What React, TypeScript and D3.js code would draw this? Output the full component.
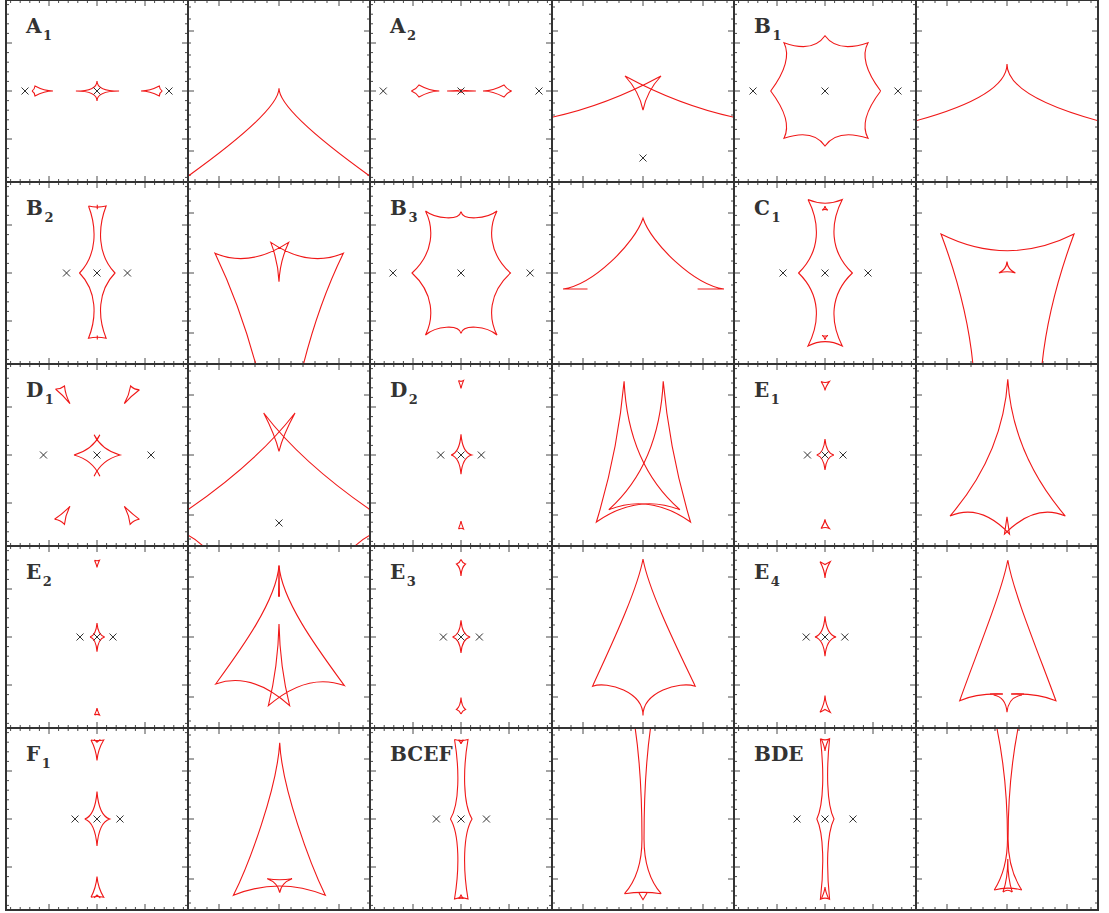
import React from 'react';
import * as d3 from 'd3';

// A curve is a list of segments: the first is the start point [x, y];
// then [x, y] = line, [cx, cy, x, y] = quadratic, [c1x, c1y, c2x, c2y, x, y] = cubic.
type Seg = number[];
type Curve = Seg[];

// ---- A1 ----
const lensesA1 = [[-1.5, 0], [0, 0], [1.5, 0]];
const causticA1: Curve[] = [
  [[-0.44, 0], [0, 0, 0, 0.21], [0, 0, 0.46, 0], [0, 0, 0, -0.21], [0, 0, -0.44, 0]],
  [[-1.354, 0], [-1.3, 0.03, -1.292, 0.104], [-1.1, 0, -0.917, 0], [-1.1, 0, -1.292, -0.104], [-1.3, -0.03, -1.354, 0]],
  [[1.36, 0], [1.305, 0.03, 1.298, 0.104], [1.1, 0, 0.917, 0], [1.1, 0, 1.298, -0.104], [1.305, -0.03, 1.36, 0]],
];
const zoomA1: Curve[] = [[[-1.53, -1.43], [0, -0.333, 0, 0.045], [0, -0.333, 1.53, -1.43]]];

// ---- A2 ----
const lensesA2 = [[-1.62, 0], [0, 0], [1.625, 0]];
const causticA2: Curve[] = [
  [[-0.29, 0], [0, 0, 0, 0.035], [0, 0, 0.31, 0], [0, 0, 0, -0.035], [0, 0, -0.29, 0]],
  [[-1.035, 0], [-0.93, 0.04, -0.875, 0.125], [-0.65, 0, -0.452, 0], [-0.65, 0, -0.875, -0.125], [-0.93, -0.04, -1.035, 0]],
  [[1.056, 0], [0.95, 0.04, 0.896, 0.125], [0.66, 0, 0.458, 0], [0.66, 0, 0.896, -0.125], [0.95, -0.04, 1.056, 0]],
];
const zoomA2: Curve[] = [
  [[-1.53, -0.44], [-0.608, -0.242, 0.3, 0.25], [0.067, 0, 0, -0.317], [-0.067, 0, -0.3, 0.25], [0.608, -0.242, 1.53, -0.44]],
];
const zoomLensesA2 = [[0, -1.117]];

// ---- B1 ----
const lensesB1 = [[-1.5, 0], [0, 0], [1.52, 0]];
const causticB1: Curve[] = [
  [[1.16, 0], [0.69, 0.625, 0.896, 1.006], [0.26, 0.79, 0, 1.152], [-0.25, 0.79, -0.854, 1.006], [-0.667, 0.625, -1.131, 0],
   [-0.667, -0.615, -0.854, -0.985], [-0.25, -0.78, 0, -1.146], [0.26, -0.78, 0.896, -0.985], [0.69, -0.615, 1.16, 0]],
];
const zoomB1: Curve[] = [[[-1.53, -0.5], [0, -0.083, 0, 0.45], [0, -0.083, 1.53, -0.5]]];

// ---- B2 ----
const lensesB2 = [[-0.635, 0], [0, 0], [0.635, 0]];
const causticB2: Curve[] = [
  [[-0.177, 1.396], [0, 0.94, 0, 0.375, -0.363, 0], [0, -0.375, 0, -0.92, -0.177, -1.36], [0.006, -1.32, 0.19, -1.36],
   [0.012, -0.92, 0.012, -0.375, 0.375, 0], [0.012, 0.375, 0.012, 0.94, 0.19, 1.396], [0.006, 1.35, -0.177, 1.396]],
  [[0.006, 1.42], [0.006, 1.33]],
  [[0.006, -1.385], [0.006, -1.3]],
];
const zoomB2: Curve[] = [
  [[-0.384, -1.53], [-0.667, -0.5, -1.067, 0.33], [-0.5, 0.083, 0.16, 0.51], [0.017, 0.2, 0, -0.145],
   [-0.017, 0.2, -0.137, 0.51], [0.5, 0.083, 1.073, 0.33], [0.667, -0.5, 0.405, -1.53]],
];

// ---- B3 ----
const lensesB3 = [[-1.417, 0], [0, 0], [1.44, 0]];
const causticB3: Curve[] = [
  [[-0.74, 1.292], [-0.52, 1.125, -0.042, 1.083, 0, 1.28], [0.042, 1.083, 0.53, 1.125, 0.75, 1.292],
   [0.57, 0.9375, 0.57, 0.417, 1.03, 0], [0.57, -0.417, 0.57, -0.9375, 0.75, -1.292],
   [0.53, -1.1, 0.042, -1.06, 0, -1.26], [-0.042, -1.06, -0.52, -1.1, -0.74, -1.292],
   [-0.5625, -0.9375, -0.5625, -0.417, -1.02, 0], [-0.5625, 0.417, -0.5625, 0.9375, -0.74, 1.292]],
];
const zoomB3: Curve[] = [
  [[-0.925, -0.267], [-1.333, -0.267], [-0.833, -0.2, -0.133, 0.5, 0, 0.912], [0.133, 0.5, 0.85, -0.2, 1.35, -0.267], [0.91, -0.267]],
];

// ---- C1 ----
const lensesC1 = [[-0.875, 0], [0, 0], [0.896, 0]];
const causticC1: Curve[] = [
  [[-0.354, 1.53], [-0.104, 1.04, -0.083, 0.458, -0.55, 0], [-0.083, -0.458, -0.104, -1.03, -0.354, -1.52],
   [0.003, -1.34, 0.36, -1.52], [0.11, -1.03, 0.09, -0.458, 0.57, 0], [0.09, 0.458, 0.11, 1.04, 0.36, 1.53],
   [0.003, 1.374, -0.354, 1.53]],
  [[0, 1.396], [-0.005, 1.34, -0.06, 1.31], [0, 1.335, 0.06, 1.31], [0.005, 1.34, 0, 1.396]],
  [[0, -1.39], [-0.005, -1.335, -0.06, -1.3], [0, -1.325, 0.06, -1.3], [0.005, -1.335, 0, -1.39]],
];
const zoomC1: Curve[] = [
  [[-0.567, -1.53], [-0.667, -0.5, -1.1, 0.65], [0.01, 0.093, 1.117, 0.65], [0.69, -0.5, 0.583, -1.53]],
  [[0, 0.19], [-0.01, 0.06, -0.135, 0], [0, 0.04, 0.14, 0], [0.01, 0.06, 0, 0.19]],
];

// ---- D1 ----
const lensesD1 = [[-1.115, 0], [0, 0], [1.125, 0]];
const causticD1: Curve[] = [
  [[-0.48, 0], [-0.1, 0.1, 0.06, 0.42], [0, 0.31], [-0.06, 0.42], [0.1, 0.1, 0.48, 0],
   [0.1, -0.1, -0.06, -0.44], [0, -0.33], [0.06, -0.44], [-0.1, -0.1, -0.48, 0]],
  [[-0.865, 1.375], [-0.76, 1.37, -0.677, 1.4375], [-0.66, 1.25, -0.5625, 1.07], [-0.7, 1.24, -0.865, 1.375]],
  [[0.885, 1.36], [0.78, 1.36, 0.7, 1.4375], [0.67, 1.25, 0.57, 1.07], [0.71, 1.23, 0.885, 1.36]],
  [[-0.885, -1.34], [-0.77, -1.35, -0.677, -1.444], [-0.66, -1.25, -0.5625, -1.07], [-0.71, -1.22, -0.885, -1.34]],
  [[0.885, -1.34], [0.78, -1.35, 0.69, -1.444], [0.67, -1.25, 0.57, -1.07], [0.72, -1.22, 0.885, -1.34]],
];
const zoomD1: Curve[] = [
  [[-1.53, -0.92], [-0.377, -0.1275, 0.267, 0.7], [0.067, 0.333, 0, 0.062], [-0.067, 0.333, -0.255, 0.7], [0.377, -0.1275, 1.53, -0.92]],
  [[-1.53, -1.33], [-1.39, -1.4, -1.25, -1.53]],
  [[1.25, -1.53], [1.39, -1.4, 1.53, -1.33]],
];
const zoomLensesD1 = [[0, -1.133]];

// ---- D2 ----
const lensesD2 = [[-0.423, 0], [0, 0], [0.423, 0]];
const causticD2: Curve[] = [
  [[-0.206, 0], [-0.03, 0.05, 0, 0.43], [0.03, 0.05, 0.223, 0], [0.03, -0.05, 0, -0.4], [-0.03, -0.05, -0.206, 0]],
  [[-0.052, 1.55], [0, 1.52, 0.052, 1.55], [0.008, 1.44, 0, 1.385], [-0.008, 1.44, -0.052, 1.55]],
  [[-0.052, -1.54], [0, -1.51, 0.052, -1.54], [0.008, -1.43, 0, -1.375], [-0.008, -1.43, -0.052, -1.54]],
];
const zoomD2: Curve[] = [
  [[-0.315, 1.228], [-0.42, 0.054, -0.777, -1.117], [-0.086, -0.636, 0.615, -0.912], [-0.25, -0.158, -0.315, 1.228]],
  [[0.337, 1.228], [0.4425, 0.054, 0.792, -1.117], [0.1075, -0.636, -0.57, -0.912], [0.272, -0.158, 0.337, 1.228]],
];

// ---- E1 ----
const lensesE1 = [[-0.365, 0], [0, 0], [0.375, 0]];
const causticE1: Curve[] = [
  [[-0.173, 0], [-0.025, 0.04, 0, 0.333], [0.025, 0.04, 0.185, 0], [0.025, -0.04, 0, -0.3125], [-0.025, -0.04, -0.173, 0]],
  [[-0.083, 1.53], [0.003, 1.49, 0.09, 1.53], [0.01, 1.42, 0, 1.344], [-0.01, 1.42, -0.083, 1.53]],
  [[-0.083, -1.53], [0.003, -1.49, 0.09, -1.53], [0.01, -1.42, 0, -1.34], [-0.01, -1.42, -0.083, -1.53]],
];
const zoomE1: Curve[] = [
  [[0.013, 1.262], [-0.065, 0.011, -0.95, -1.017], [-0.446, -0.8, 0.042, -1.317], [0, -1.03], [-0.042, -1.317],
   [0.4725, -0.8, 0.972, -1.017], [0.092, 0.011, 0.013, 1.262]],
];

// ---- E2 ----
const lensesE2 = [[-0.354, 0], [0, 0], [0.333, 0]];
const causticE2: Curve[] = [
  [[-0.146, 0], [-0.02, 0.035, 0, 0.29], [0.02, 0.035, 0.16, 0], [0.02, -0.035, 0, -0.306], [-0.02, -0.035, -0.146, 0]],
  [[-0.052, 1.6], [0, 1.58, 0.052, 1.6], [0.006, 1.5, 0, 1.45], [-0.006, 1.5, -0.052, 1.6]],
  [[-0.052, -1.625], [0, -1.6, 0.052, -1.625], [0.006, -1.53, 0, -1.48], [-0.006, -1.53, -0.052, -1.625]],
];
const zoomE2: Curve[] = [
  [[0, 1.19], [-0.05, 0.583, -0.667, -0.25, -1.055, -0.783], [-0.46, -0.57, 0.177, -1.145], [0.017, -0.5, 0, 0.217],
   [-0.017, -0.5, -0.177, -1.145], [0.475, -0.583, 1.09, -0.81], [0.69, -0.26, 0.05, 0.583, 0, 1.19]],
  [[-0.008, 0.672], [0, 1.19], [0.008, 0.672]],
];

// ---- E3 ----
const lensesE3 = [[-0.367, 0], [0, 0], [0.383, 0]];
const causticE3: Curve[] = [
  [[-0.177, 0], [-0.025, 0.04, 0, 0.348], [0.025, 0.04, 0.19, 0], [0.025, -0.04, 0, -0.333], [-0.025, -0.04, -0.177, 0]],
  [[0, 1.615], [-0.03, 1.54, -0.094, 1.52], [-0.01, 1.45, 0, 1.27], [0.01, 1.45, 0.094, 1.52], [0.03, 1.54, 0, 1.615]],
  [[0, -1.604], [-0.03, -1.53, -0.094, -1.51], [-0.01, -1.44, 0, -1.26], [0.01, -1.44, 0.094, -1.51], [0.03, -1.53, 0, -1.604]],
];
const zoomE3: Curve[] = [
  [[0, 1.3], [-0.1, 0.75, -0.583, -0.25, -0.84, -0.82], [-0.583, -0.733, 0, -0.917, 0, -1.31],
   [0, -0.917, 0.6, -0.733, 0.87, -0.82], [0.6, -0.25, 0.1, 0.75, 0, 1.3]],
];

// ---- E4 ----
const lensesE4 = [[-0.392, 0], [0, 0], [0.413, 0]];
const causticE4: Curve[] = [
  [[-0.21, 0], [-0.03, 0.05, 0, 0.43], [0.03, 0.05, 0.23, 0], [0.03, -0.05, 0, -0.4], [-0.03, -0.05, -0.21, 0]],
  [[-0.104, 1.57], [0, 1.51], [0.11, 1.57], [0.01, 1.4, 0, 1.23], [-0.01, 1.4, -0.104, 1.57]],
  [[-0.104, -1.57], [0, -1.51], [0.11, -1.57], [0.01, -1.4, 0, -1.22], [-0.01, -1.4, -0.104, -1.57]],
];
const zoomE4: Curve[] = [
  [[-0.07, -0.95], [-0.5, -0.933, -0.788, -1.062], [-0.533, -0.333, -0.083, 0.75, 0.013, 1.283],
   [0.1, 0.75, 0.55, -0.333, 0.815, -1.062], [0.5, -0.933, 0.07, -0.95]],
  [[-0.07, -0.95], [-0.283, -0.95]],
  [[0.07, -0.95], [0.283, -0.95]],
  [[-0.223, -0.967], [-0.02, -1.0, 0, -1.255], [0.02, -1.0, 0.25, -0.967]],
];

// ---- F1 ----
const lensesF1 = [[-0.458, 0], [0, 0], [0.479, 0]];
const causticF1: Curve[] = [
  [[-0.256, 0], [-0.04, 0.07, 0, 0.57], [0.04, 0.07, 0.265, 0], [0.04, -0.07, 0, -0.5625], [-0.04, -0.07, -0.256, 0]],
  [[-0.125, 1.646], [0.007, 1.62, 0.14, 1.646], [0.02, 1.45, 0, 1.22], [-0.02, 1.45, -0.125, 1.646]],
  [[-0.06, 1.66], [0, 1.6], [0.07, 1.66]],
  [[-0.125, -1.63], [0.007, -1.6, 0.14, -1.63], [0.02, -1.43, 0, -1.2], [-0.02, -1.43, -0.125, -1.63]],
  [[-0.06, -1.645], [0, -1.585], [0.07, -1.645]],
];
const zoomF1: Curve[] = [
  [[0.012, 1.272], [-0.033, 0.5, -0.5, -0.75, -0.76, -1.272], [0, -0.962, 0.772, -1.272], [0.52, -0.75, 0.05, 0.5, 0.012, 1.272]],
  [[-0.195, -0.995], [0.01, -1.03, 0.218, -0.995], [0.04, -1.06, 0.012, -1.228], [-0.02, -1.06, -0.195, -0.995]],
];

// ---- BCEF ----
const lensesBCEF = [[-0.5125, 0], [0, 0], [0.53, 0]];
const causticBCEF: Curve[] = [
  [[-0.135, 1.656], [-0.031, 1.04, -0.031, 0.3125, -0.22, 0], [-0.031, -0.3125, -0.031, -1.05, -0.135, -1.667],
   [0.005, -1.62, 0.146, -1.667], [0.04, -1.05, 0.04, -0.3125, 0.23, 0], [0.04, 0.3125, 0.04, 1.04, 0.146, 1.656],
   [0.005, 1.61, -0.135, 1.656]],
  [[-0.052, 1.646], [0, 1.625, 0.052, 1.646], [0.005, 1.6, 0, 1.5625], [-0.005, 1.6, -0.052, 1.646]],
  [[-0.052, -1.656], [0, -1.635, 0.052, -1.656], [0.005, -1.61, 0, -1.573], [-0.005, -1.61, -0.052, -1.656]],
];
const zoomBCEF: Curve[] = [
  [[-0.133, 1.533], [-0.017, 0.75, -0.017, -0.333], [-0.017, -0.917, -0.308, -1.245]],
  [[0.127, 1.533], [0.017, 0.75, 0.017, -0.333], [0.017, -0.917, 0.303, -1.245]],
  [[-0.308, -1.245], [0, -1.2, 0.303, -1.245]],
  [[-0.067, -1.233], [0, -1.345], [0.067, -1.233]],
];

// ---- BDE ----
const lensesBDE = [[-0.583, 0], [0, 0], [0.583, 0]];
const causticBDE: Curve[] = [
  [[-0.096, 1.673], [-0.021, 1.04, -0.021, 0.3125, -0.17, 0], [-0.021, -0.3125, -0.021, -1.04, -0.096, -1.673],
   [0, -1.625, 0.096, -1.673], [0.03, -1.04, 0.03, -0.3125, 0.1875, 0], [0.03, 0.3125, 0.03, 1.04, 0.096, 1.673],
   [0, 1.625, -0.096, 1.673]],
  [[-0.073, 1.656], [-0.005, 1.5, 0, 1.417], [0.005, 1.5, 0.073, 1.656]],
  [[-0.073, -1.656], [-0.005, -1.5, 0, -1.417], [0.005, -1.5, 0.073, -1.656]],
];
const zoomBDE: Curve[] = [
  [[-0.172, 1.533], [0.008, 0.667, 0.008, -0.333], [0.008, -0.833, -0.212, -1.183]],
  [[0.188, 1.533], [0.018, 0.667, 0.018, -0.333], [0.018, -0.833, 0.245, -1.183]],
  [[-0.212, -1.183], [0.013, -1.12, 0.245, -1.183]],
  [[-0.067, -1.217], [0.013, -1.0, 0.013, -0.667], [0.013, -1.0, 0.088, -1.217]],
  [[-0.067, -1.217], [0.013, -1.16, 0.088, -1.217]],
];

// Axis ticks (same major positions in both panel types)
const majorTicks = [-1, 0, 1];
const sourceMinorTicks = [-1.8, -1.6, -1.4, -1.2, -0.8, -0.6, -0.4, -0.2, 0.2, 0.4, 0.6, 0.8, 1.2, 1.4, 1.6, 1.8];
const zoomMinorTicks = [-1.4, -1.2, -0.8, -0.6, -0.4, -0.2, 0.2, 0.4, 0.6, 0.8, 1.2, 1.4];

const panelRows = [
  { name: 'A', sub: '1', lenses: lensesA1, caustic: causticA1, zoom: zoomA1, zoomLenses: [] as number[][] },
  { name: 'A', sub: '2', lenses: lensesA2, caustic: causticA2, zoom: zoomA2, zoomLenses: zoomLensesA2 },
  { name: 'B', sub: '1', lenses: lensesB1, caustic: causticB1, zoom: zoomB1, zoomLenses: [] },
  { name: 'B', sub: '2', lenses: lensesB2, caustic: causticB2, zoom: zoomB2, zoomLenses: [] },
  { name: 'B', sub: '3', lenses: lensesB3, caustic: causticB3, zoom: zoomB3, zoomLenses: [] },
  { name: 'C', sub: '1', lenses: lensesC1, caustic: causticC1, zoom: zoomC1, zoomLenses: [] },
  { name: 'D', sub: '1', lenses: lensesD1, caustic: causticD1, zoom: zoomD1, zoomLenses: zoomLensesD1 },
  { name: 'D', sub: '2', lenses: lensesD2, caustic: causticD2, zoom: zoomD2, zoomLenses: [] },
  { name: 'E', sub: '1', lenses: lensesE1, caustic: causticE1, zoom: zoomE1, zoomLenses: [] },
  { name: 'E', sub: '2', lenses: lensesE2, caustic: causticE2, zoom: zoomE2, zoomLenses: [] },
  { name: 'E', sub: '3', lenses: lensesE3, caustic: causticE3, zoom: zoomE3, zoomLenses: [] },
  { name: 'E', sub: '4', lenses: lensesE4, caustic: causticE4, zoom: zoomE4, zoomLenses: [] },
  { name: 'F', sub: '1', lenses: lensesF1, caustic: causticF1, zoom: zoomF1, zoomLenses: [] },
  { name: 'BCEF', sub: '', lenses: lensesBCEF, caustic: causticBCEF, zoom: zoomBCEF, zoomLenses: [] },
  { name: 'BDE', sub: '', lenses: lensesBDE, caustic: causticBDE, zoom: zoomBDE, zoomLenses: [] },
];

const WIDTH = 1109;
const HEIGHT = 913;
const SIZE = 182;
const ORIGIN_X = 6;
const ORIGIN_Y = 0;
const SOURCE_HALF = 91 / 48;
const ZOOM_HALF = 91 / 60;
const FRAME = '#333333';
const TICK = '#4a4a4a';
const CAUSTIC = '#f01818';
const CROSS = 3.5;

function curvePath(curve: Curve, x: (v: number) => number, y: (v: number) => number) {
  const p = d3.path();
  curve.forEach((s, i) => {
    if (i === 0) p.moveTo(x(s[0]), y(s[1]));
    else if (s.length === 2) p.lineTo(x(s[0]), y(s[1]));
    else if (s.length === 4) p.quadraticCurveTo(x(s[0]), y(s[1]), x(s[2]), y(s[3]));
    else p.bezierCurveTo(x(s[0]), y(s[1]), x(s[2]), y(s[3]), x(s[4]), y(s[5]));
  });
  return p.toString();
}

type PanelProps = {
  col: number;
  row: number;
  half: number;
  minor: number[];
  curves: Curve[];
  lenses: number[][];
  name?: string;
  sub?: string;
};

function Panel({ col, row, half, minor, curves, lenses, name, sub }: PanelProps) {
  const left = ORIGIN_X + col * SIZE;
  const top = ORIGIN_Y + row * SIZE;
  const x = d3.scaleLinear().domain([-half, half]).range([left, left + SIZE]);
  const y = d3.scaleLinear().domain([-half, half]).range([top + SIZE, top]);
  const clipId = `clip-${row}-${col}`;
  const ticks = [
    ...majorTicks.map((t) => ({ t, len: 6 })),
    ...minor.map((t) => ({ t, len: 3 })),
  ];
  return (
    <g>
      <clipPath id={clipId}>
        <rect x={left} y={top} width={SIZE} height={SIZE} />
      </clipPath>
      <g stroke={TICK} strokeWidth={1}>
        {ticks.map(({ t, len }, i) => (
          <g key={i}>
            <line x1={x(t)} x2={x(t)} y1={top + SIZE} y2={top + SIZE - len} />
            <line x1={x(t)} x2={x(t)} y1={top} y2={top + len} />
            <line x1={left} x2={left + len} y1={y(t)} y2={y(t)} />
            <line x1={left + SIZE} x2={left + SIZE - len} y1={y(t)} y2={y(t)} />
          </g>
        ))}
      </g>
      <g clipPath={`url(#${clipId})`} fill="none" stroke={CAUSTIC} strokeWidth={1.1} strokeLinejoin="miter">
        {curves.map((c, i) => (
          <path key={i} d={curvePath(c, x, y)} />
        ))}
      </g>
      <g stroke={FRAME} strokeWidth={1}>
        {lenses.map(([lx, ly], i) => (
          <g key={i}>
            <line x1={x(lx) - CROSS} x2={x(lx) + CROSS} y1={y(ly) - CROSS} y2={y(ly) + CROSS} />
            <line x1={x(lx) - CROSS} x2={x(lx) + CROSS} y1={y(ly) + CROSS} y2={y(ly) - CROSS} />
          </g>
        ))}
      </g>
      {name && (
        <text x={left + 20} y={top + 33} fontFamily="'DejaVu Serif', serif" fontWeight="bold" fontSize={20} fill={FRAME}>
          {name}
          {sub && (
            <tspan fontSize={13} dx={1.5} dy={7}>
              {sub}
            </tspan>
          )}
        </text>
      )}
      <rect x={left} y={top} width={SIZE} height={SIZE} fill="none" stroke={FRAME} strokeWidth={2} />
    </g>
  );
}

export default function App() {
  return (
    <svg
      width={WIDTH}
      height={HEIGHT}
      viewBox={`0 0 ${WIDTH} ${HEIGHT}`}
      style={{ position: 'absolute', left: 0, top: 0, background: '#fff' }}
    >
      <rect width={WIDTH} height={HEIGHT} fill="#fff" />
      {panelRows.map((p, i) => {
        const row = Math.floor(i / 3);
        const col = (i % 3) * 2;
        return (
          <g key={i}>
            <Panel col={col} row={row} half={SOURCE_HALF} minor={sourceMinorTicks} curves={p.caustic} lenses={p.lenses} name={p.name} sub={p.sub} />
            <Panel col={col + 1} row={row} half={ZOOM_HALF} minor={zoomMinorTicks} curves={p.zoom} lenses={p.zoomLenses} />
          </g>
        );
      })}
    </svg>
  );
}
